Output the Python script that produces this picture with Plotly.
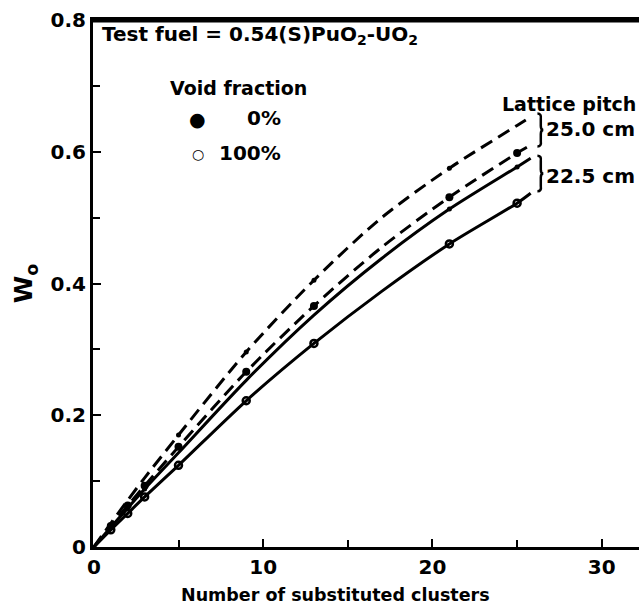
import plotly.graph_objects as go

# ---- data ----
clusters = [0, 1, 2, 3, 5, 9, 13, 17, 21, 25, 25.8]
w_25_0 = [0, 0.036, 0.071, 0.105, 0.170, 0.296, 0.405, 0.500, 0.575, 0.640, 0.653]   # 25.0 cm, upper
w_25_v = [0, 0.032, 0.063, 0.093, 0.152, 0.266, 0.366, 0.455, 0.531, 0.598, 0.610]   # 25.0 cm, lower
w_22_0 = [0, 0.030, 0.059, 0.088, 0.143, 0.253, 0.352, 0.438, 0.513, 0.577, 0.590]   # 22.5 cm, upper
w_22_v = [0, 0.026, 0.051, 0.076, 0.124, 0.222, 0.309, 0.388, 0.460, 0.522, 0.537]   # 22.5 cm, lower
measured = [1, 2, 3, 5, 9, 13, 21, 25]

x_ticks = [0, 10, 20, 30]
y_ticks = [0, 0.2, 0.4, 0.6, 0.8]
y_tick_text = ["0", "0.2", "0.4", "0.6", "0.8"]

FONT = "DejaVu Sans"

def pts(ys, xs_keep):
    xs = [x for x in clusters if x in xs_keep]
    yv = [ys[clusters.index(x)] for x in xs]
    return xs, yv

fig = go.Figure()

curves = [
    (w_25_0, "13px,7px", dict(size=5, symbol="circle", color="black"), [5, 9, 13, 21]),
    (w_25_v, "13px,7px", dict(size=8, symbol="circle", color="black"), measured),
    (w_22_0, "solid", dict(size=5, symbol="circle", color="black"), [1, 3, 21, 25]),
    (w_22_v, "solid", dict(size=7, symbol="circle-open", color="black", line=dict(width=2.5)), measured),
]
for ys, dash, mk, keep in curves:
    fig.add_trace(go.Scatter(x=clusters, y=ys, mode="lines",
                             line=dict(color="black", width=3, dash=dash, shape="spline", smoothing=0.8),
                             showlegend=False, hoverinfo="skip"))
    mx, my = pts(ys, keep)
    fig.add_trace(go.Scatter(x=mx, y=my, mode="markers", marker=mk, showlegend=False, hoverinfo="skip"))

# brackets
def brace(x0, ytop, ybot):
    xm = x0 + 0.35
    ym = (ytop + ybot) / 2
    return (f"M {x0},{ytop} Q {x0+0.25},{ytop} {x0+0.2},{ytop-0.008} "
            f"L {x0+0.2},{ym+0.006} Q {x0+0.2},{ym} {xm},{ym} "
            f"Q {x0+0.2},{ym} {x0+0.2},{ym-0.006} L {x0+0.2},{ybot+0.008} "
            f"Q {x0+0.25},{ybot} {x0},{ybot}")

fig.add_shape(type="path", path=brace(26.2, 0.658, 0.608), line=dict(color="black", width=2.5))
fig.add_shape(type="path", path=brace(26.2, 0.594, 0.540), line=dict(color="black", width=2.5))

# top frame line
fig.add_shape(type="line", xref="paper", yref="paper", x0=0, x1=1, y0=0.998, y1=0.998,
              line=dict(color="black", width=3), layer="above")

ann_font = dict(family=FONT, size=19, color="black")
anns = [
    dict(x=0.36, y=0.777, text="<b>Test fuel = 0.54(S)PuO<sub>2</sub>-UO<sub>2</sub></b>", xanchor="left",
         font=dict(family=FONT, size=20, color="black")),
    dict(x=4.38, y=0.697, text="<b>Void fraction</b>", xanchor="left"),
    dict(x=6.15, y=0.649, text="●", xanchor="center", font=dict(family=FONT, size=19, color="black")),
    dict(x=6.15, y=0.597, text="<b>○</b>", xanchor="center", font=dict(family=FONT, size=14, color="black")),
    dict(x=11.17, y=0.651, text="<b>0%</b>", xanchor="right", font=dict(family=FONT, size=20, color="black")),
    dict(x=11.17, y=0.598, text="<b>100%</b>", xanchor="right", font=dict(family=FONT, size=20, color="black")),
    dict(x=32.15, y=0.672, text="<b>Lattice pitch</b>", xanchor="right"),
    dict(x=26.6, y=0.634, text="<b>25.0 cm</b>", xanchor="left", font=dict(family=FONT, size=20, color="black")),
    dict(x=26.6, y=0.563, text="<b>22.5 cm</b>", xanchor="left", font=dict(family=FONT, size=20, color="black")),
]
for a in anns:
    a.setdefault("font", ann_font)
    fig.add_annotation(xref="x", yref="y", yanchor="middle", showarrow=False, **a)

# axis titles
fig.add_annotation(xref="x", yref="paper", x=14.3, y=-0.091, yanchor="middle", showarrow=False,
                   text="<b>Number of substituted clusters</b>", font=dict(family=FONT, size=17.5, color="black"))
fig.add_annotation(xref="paper", yref="y", x=-0.125, y=0.40, xanchor="center", yanchor="middle",
                   showarrow=False, textangle=-90, text="<b>W<sub>o</sub></b>",
                   font=dict(family=FONT, size=25, color="black"))

fig.update_layout(
    width=639, height=612,
    margin=dict(l=93, r=0, t=20, b=65),
    paper_bgcolor="white", plot_bgcolor="white",
    font=dict(family=FONT, color="black"),
)
fig.update_xaxes(range=[-0.05, 32.2], tickvals=x_ticks, ticktext=[f"<b>{v}</b>" for v in x_ticks],
                 ticks="inside", ticklen=8, tickwidth=2, tickcolor="black",
                 tickfont=dict(family=FONT, size=20, color="black"),
                 showline=True, linewidth=3, linecolor="black", mirror=True,
                 showgrid=False, zeroline=False,
                 minor=dict(tickvals=[5, 15, 25], ticks="inside", ticklen=7, tickwidth=2, tickcolor="black"))
fig.update_yaxes(range=[0, 0.8], tickvals=y_ticks, ticktext=[f"<b>{t}</b>" for t in y_tick_text],
                 ticks="inside", ticklen=8, tickwidth=2, tickcolor="black",
                 tickfont=dict(family=FONT, size=20, color="black"),
                 showline=True, linewidth=3, linecolor="black", mirror=False,
                 showgrid=False, zeroline=False,
                 minor=dict(tickvals=[0.1, 0.3, 0.5, 0.7], ticks="inside", ticklen=7, tickwidth=2, tickcolor="black"))

fig.write_html("out.html", config={"displayModeBar": False},
               post_script="document.body.style.margin='0';document.body.style.overflow='hidden';")
